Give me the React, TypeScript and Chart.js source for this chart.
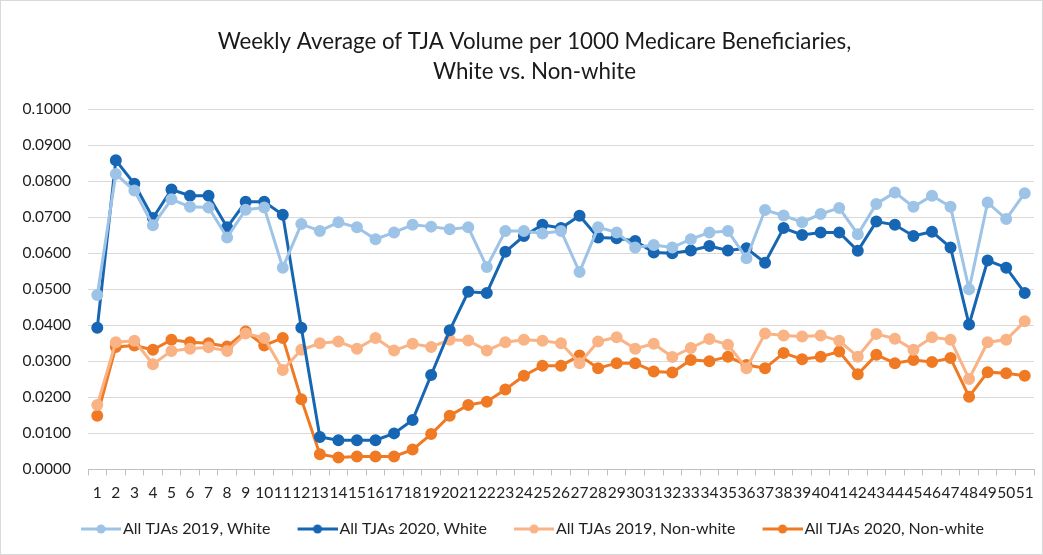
import React, { useEffect, useRef } from "react";
import { Chart, registerables } from "chart.js";

Chart.register(...registerables);

const weeks: string[] = Array.from({ length: 51 }, (_, i) => String(i + 1));

const white2019: number[] = [
  0.0484, 0.0820, 0.0774, 0.0678, 0.0750, 0.0729, 0.0727, 0.0644, 0.0721, 0.0727,
  0.0560, 0.0681, 0.0662, 0.0686, 0.0672, 0.0639, 0.0658, 0.0679, 0.0674, 0.0667,
  0.0672, 0.0562, 0.0662, 0.0662, 0.0655, 0.0662, 0.0548, 0.0672, 0.0658, 0.0616,
  0.0623, 0.0616, 0.0639, 0.0658, 0.0662, 0.0586, 0.0720, 0.0705, 0.0686, 0.0709,
  0.0726, 0.0653, 0.0737, 0.0769, 0.0729, 0.0760, 0.0729, 0.0500, 0.0741, 0.0695,
  0.0767,
];

const white2020: number[] = [
  0.0393, 0.0858, 0.0793, 0.0698, 0.0777, 0.0760, 0.0760, 0.0672, 0.0743, 0.0743,
  0.0707, 0.0393, 0.0090, 0.0081, 0.0081, 0.0081, 0.0100, 0.0137, 0.0262, 0.0386,
  0.0493, 0.0490, 0.0604, 0.0648, 0.0679, 0.0670, 0.0704, 0.0644, 0.0642, 0.0634,
  0.0602, 0.0600, 0.0608, 0.0620, 0.0608, 0.0614, 0.0574, 0.0670, 0.0651, 0.0658,
  0.0658, 0.0607, 0.0688, 0.0679, 0.0648, 0.0660, 0.0616, 0.0402, 0.0580, 0.0560,
  0.0490,
];

const nonWhite2019: number[] = [
  0.0179, 0.0353, 0.0357, 0.0292, 0.0329, 0.0335, 0.0339, 0.0329, 0.0377, 0.0365,
  0.0276, 0.0332, 0.0350, 0.0355, 0.0335, 0.0365, 0.0330, 0.0349, 0.0340, 0.0360,
  0.0358, 0.0330, 0.0353, 0.0360, 0.0357, 0.0350, 0.0295, 0.0355, 0.0367, 0.0335,
  0.0349, 0.0312, 0.0337, 0.0362, 0.0346, 0.0281, 0.0377, 0.0372, 0.0369, 0.0372,
  0.0357, 0.0313, 0.0376, 0.0363, 0.0332, 0.0367, 0.0360, 0.0251, 0.0353, 0.0360,
  0.0411,
];

const nonWhite2020: number[] = [
  0.0149, 0.0340, 0.0344, 0.0332, 0.0360, 0.0353, 0.0350, 0.0341, 0.0383, 0.0344,
  0.0365, 0.0195, 0.0042, 0.0033, 0.0036, 0.0036, 0.0036, 0.0055, 0.0098, 0.0149,
  0.0179, 0.0188, 0.0222, 0.0260, 0.0288, 0.0288, 0.0316, 0.0281, 0.0295, 0.0295,
  0.0272, 0.0269, 0.0304, 0.0300, 0.0313, 0.0290, 0.0281, 0.0323, 0.0306, 0.0313,
  0.0327, 0.0264, 0.0318, 0.0295, 0.0304, 0.0298, 0.0309, 0.0202, 0.0270, 0.0267,
  0.0260,
];

const seriesNames: string[] = [
  "All TJAs 2019, White",
  "All TJAs 2020, White",
  "All TJAs 2019, Non-white",
  "All TJAs 2020, Non-white",
];
const seriesColors: string[] = ["#9DC3E6", "#1766B3", "#F9B385", "#F07A24"];

const titleLines: string[] = [
  "Weekly Average of TJA Volume per 1000 Medicare Beneficiaries,",
  "White vs. Non-white",
];

function legendIcon(color: string): HTMLCanvasElement {
  // 40px line marker, shifted 6px right inside a 52px image so it sits close to the text
  const c = document.createElement("canvas");
  c.width = 52;
  c.height = 12;
  const ctx = c.getContext("2d")!;
  ctx.strokeStyle = color;
  ctx.lineWidth = 3;
  ctx.beginPath();
  ctx.moveTo(12, 6);
  ctx.lineTo(52, 6);
  ctx.stroke();
  ctx.fillStyle = color;
  ctx.beginPath();
  ctx.arc(32, 6, 4.5, 0, Math.PI * 2);
  ctx.fill();
  return c;
}

// Nudges title and legend blocks horizontally (the reference centres them slightly right of the canvas centre)
const shiftBlocks = {
  id: "shiftBlocks",
  afterLayout(chart: any) {
    const t = chart.titleBlock;
    if (t) {
      t.left += 11;
      t.right += 11;
    }
    const l = chart.legend;
    if (l) {
      l.left += 6;
      l.right += 6;
    }
  },
};

export default function App() {
  const ref = useRef<HTMLCanvasElement | null>(null);

  useEffect(() => {
    document.body.style.margin = "0";
    const canvas = ref.current;
    if (!canvas) return;
    const all = [white2019, white2020, nonWhite2019, nonWhite2020];
    const icons = seriesColors.map((c) => legendIcon(c));
    const font = "Lato, 'Liberation Sans', sans-serif";
    const chart = new Chart(canvas, {
      type: "line",
      data: {
        labels: weeks,
        datasets: all.map((d, i) => ({
          label: seriesNames[i],
          data: d,
          borderColor: seriesColors[i],
          backgroundColor: seriesColors[i],
          pointBackgroundColor: seriesColors[i],
          pointBorderColor: seriesColors[i],
          borderWidth: 3,
          pointRadius: 4.5,
          pointStyle: "circle" as any,
          tension: 0,
        })),
      },
      plugins: [shiftBlocks],
      options: {
        animation: false,
        responsive: false,
        maintainAspectRatio: false,
        layout: { padding: { left: 12, right: 8, top: 18, bottom: 7 } },
        plugins: {
          title: {
            display: true,
            text: titleLines,
            color: "#1a1a1a",
            font: { family: font, size: 22.3, weight: "normal" as any, lineHeight: 1.35 },
            padding: { top: 8, bottom: 22 },
          },
          legend: {
            position: "bottom",
            labels: {
              color: "#222",
              font: { family: font, size: 16 },
              boxWidth: 40,
              boxHeight: 12,
              pointStyleWidth: 40,
              padding: 21,
              usePointStyle: true,
              generateLabels: (ch: any) =>
                ch.data.datasets.map((ds: any, i: number) => ({
                  text: ds.label,
                  fillStyle: seriesColors[i],
                  strokeStyle: seriesColors[i],
                  lineWidth: 0,
                  pointStyle: icons[i],
                  hidden: false,
                  datasetIndex: i,
                  fontColor: "#222",
                })),
            },
          },
          tooltip: { enabled: false },
        },
        scales: {
          x: {
            offset: true,
            grid: {
              display: true,
              drawOnChartArea: false,
              drawTicks: true,
              tickLength: 6,
              offset: true,
              color: "#BFBFBF",
            },
            border: { color: "#BFBFBF" },
            ticks: {
              autoSkip: false,
              maxRotation: 0,
              minRotation: 0,
              color: "#222",
              padding: 8,
              font: { family: font, size: 15.5 },
            },
            afterFit: (s: any) => {
              s.height = s.height - 10;
            },
          },
          y: {
            min: 0,
            max: 0.1,
            grid: { color: "#D9D9D9", drawTicks: false, lineWidth: 1 },
            border: { display: false },
            ticks: {
              stepSize: 0.01,
              padding: 17,
              color: "#222",
              font: { family: font, size: 15.5 },
              callback: (v: any) => Number(v).toFixed(4),
            },
            afterFit: (s: any) => {
              s.width = 75;
            },
          },
        },
      },
    });
    return () => chart.destroy();
  }, []);

  return (
    <div
      style={{
        position: "relative",
        width: 1043,
        height: 555,
        boxSizing: "border-box",
        border: "1px solid #D9D9D9",
        background: "#fff",
      }}
    >
      <canvas ref={ref} width={1041} height={553} style={{ display: "block" }} />
    </div>
  );
}
